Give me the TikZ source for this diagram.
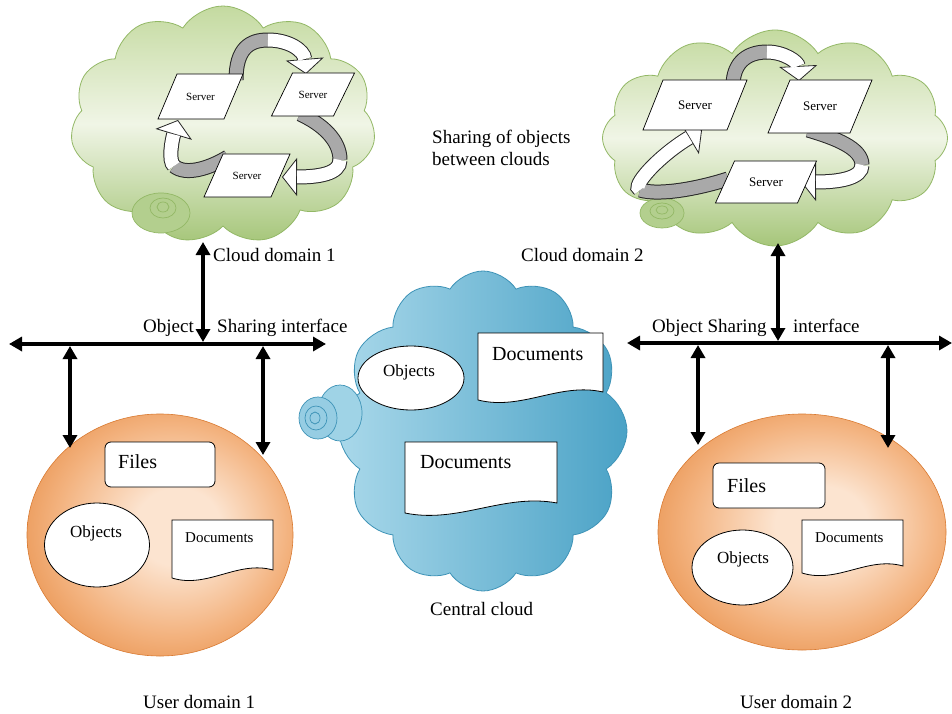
\documentclass[tikz,border=0pt]{standalone}
\usepackage{fontspec}
\setmainfont{Liberation Serif}
\usetikzlibrary{shapes.symbols,shapes.geometric,arrows.meta,calc}

\definecolor{greenTop}{HTML}{C4DAA0}
\definecolor{greenMid}{HTML}{F0F5E6}
\definecolor{greenBot}{HTML}{A6C67A}
\definecolor{greenEdge}{HTML}{93B866}
\definecolor{blueL}{HTML}{A9D8EA}
\definecolor{blueD}{HTML}{4AA2C6}
\definecolor{blueEdge}{HTML}{3E93B7}
\definecolor{orgIn}{HTML}{FCE4D0}
\definecolor{orgMid}{HTML}{F3B27E}
\definecolor{orgOut}{HTML}{E68B43}
\definecolor{orgEdge}{HTML}{D97A31}
\definecolor{bandGray}{HTML}{A9A9A9}

% soft orange glow for the user domains, brightest a little right of centre
\pgfdeclareradialshading{orgshade}{\pgfpoint{4bp}{2bp}}{%
  color(0bp)=(orgIn); color(8bp)=(orgIn); color(22bp)=(orgMid);
  color(33bp)=(orgOut); color(50bp)=(orgOut)}

\tikzset{
  lbl/.style={font=\fontsize{19}{22}\selectfont, anchor=base west, inner sep=0pt},
  greencloud/.style={cloud, cloud ignores aspect, draw=greenEdge, line width=0.8pt,
    top color=greenTop, bottom color=greenBot, middle color=greenMid},
  bluecloud/.style={cloud, cloud ignores aspect, draw=blueEdge, line width=0.8pt,
    left color=blueL, right color=blueD},
  userdom/.style={ellipse, draw=orgEdge, line width=0.6pt, shading=orgshade},
  srvbox/.style={draw=black, line width=0.7pt, fill=white},
  docbox/.style={draw=black, line width=0.8pt, fill=white},
  objell/.style={ellipse, draw=black, line width=0.8pt, fill=white},
  filebox/.style={draw=black, line width=0.8pt, fill=white, rounded corners=6pt},
  bandedge/.style={line width=15pt, draw=black!85},
  bandgray/.style={line width=13pt, draw=bandGray},
  bandwhite/.style={line width=13pt, draw=white, shorten >=15pt},
  bandtip/.style={-{Triangle[width=38pt,length=15pt,fill=white,line width=0.8pt]}},
  busarrow/.style={line width=3.6pt, {Triangle[length=13pt,width=14pt]}-{Triangle[length=13pt,width=14pt]}},
  swirl/.style={draw=#1, line width=0.7pt},
}

% parallelogram server: name, cx, cy, top width, height, slant, font size
\newcommand\serverbox[7]{%
  \draw[srvbox] (#2-#4/2+#6/2,#3-#5/2) -- (#2+#4/2+#6/2,#3-#5/2)
    -- (#2+#4/2-#6/2,#3+#5/2) -- (#2-#4/2-#6/2,#3+#5/2) -- cycle;
  \node[font=\fontsize{#7}{#7}\selectfont, inner sep=0pt] (#1) at (#2,#3) {Server};}

% document symbol: name, x left, y top, x right, y bottom-left, y bottom-right
\newcommand\docshape[6]{%
  \draw[docbox] (#2,#3) -- (#4,#3) -- (#4,#6)
    .. controls (#4-0.35*#4+0.35*#2,#6-10) and (#2+0.35*#4-0.35*#2,#5+11) .. (#2,#5) -- cycle;
  \coordinate (#1) at (#2,#3);}

\begin{document}
\begin{tikzpicture}[x=1pt,y=-1pt]
\useasboundingbox (0,0) rectangle (952,714);
\fill[white] (0,0) rectangle (952,714);

% ---------- cloud domain 1 ----------
\node[greencloud, cloud puffs=11, cloud puff arc=115, minimum width=305pt, minimum height=238pt] (cd1) at (223,125) {};
\filldraw[swirl=greenEdge, fill=greenBot!85] (161,213) ellipse [x radius=29, y radius=20];
\draw[swirl=greenEdge] (163,208) ellipse [x radius=13, y radius=10];
\draw[swirl=greenEdge] (163,207) ellipse [x radius=6, y radius=5];

% twisted ribbon arrows between the servers of domain 1
\draw[bandedge] (236,80) .. controls (236,48) and (250,40) .. (268,40);
\draw[bandedge,bandtip] (268,40) .. controls (288,40) and (304,50) .. (306,74);
\draw[bandgray] (236,80) .. controls (236,48) and (250,40) .. (268,40);
\draw[bandwhite] (268,40) .. controls (288,40) and (304,50) .. (306,74);

\draw[bandedge] (300,114) .. controls (322,124) and (340,140) .. (340,160);
\draw[bandedge,bandtip] (340,160) .. controls (340,174) and (318,177) .. (282,177);
\draw[bandgray] (300,114) .. controls (322,124) and (340,140) .. (340,160);
\draw[bandwhite] (340,160) .. controls (340,174) and (318,177) .. (282,177);

\draw[bandedge] (228,157) .. controls (210,168) and (186,176) .. (174,166);
\draw[bandedge,bandtip] (174,166) .. controls (168,161) and (172,140) .. (178,120);
\draw[bandgray] (228,157) .. controls (210,168) and (186,176) .. (174,166);
\draw[bandwhite] (174,166) .. controls (168,161) and (172,140) .. (178,120);

\serverbox{s11}{200.5}{96.5}{66}{45}{19}{11}
\serverbox{s12}{313}{94.5}{62}{43}{21}{11}
\serverbox{s13}{247}{175.5}{67}{43}{19}{11}

% ---------- cloud domain 2 ----------
\node[greencloud, cloud puffs=12, cloud puff arc=115, minimum width=345pt, minimum height=216pt] (cd2) at (775,138) {};
\filldraw[swirl=greenEdge, fill=greenBot!85] (662,213) ellipse [x radius=22, y radius=15];
\draw[swirl=greenEdge] (662,211) ellipse [x radius=12, y radius=8];
\draw[swirl=greenEdge] (662,210) ellipse [x radius=6, y radius=4];

\draw[bandedge] (733,86) .. controls (733,60) and (750,52) .. (767,52);
\draw[bandedge,bandtip] (767,52) .. controls (784,52) and (798,62) .. (799,81);
\draw[bandgray] (733,86) .. controls (733,60) and (750,52) .. (767,52);
\draw[bandwhite] (767,52) .. controls (784,52) and (798,62) .. (799,81);

\draw[bandedge] (808,130) .. controls (835,138) and (862,148) .. (862,165);
\draw[bandedge,bandtip] (862,165) .. controls (862,178) and (840,182) .. (801,182);
\draw[bandgray] (808,130) .. controls (835,138) and (862,148) .. (862,165);
\draw[bandwhite] (862,165) .. controls (862,178) and (840,182) .. (801,182);

\draw[bandedge] (728,179) .. controls (700,188) and (660,196) .. (640,190);
\draw[bandedge,bandtip] (640,190) .. controls (630,187) and (660,155) .. (702,130);
\draw[bandgray] (728,179) .. controls (700,188) and (660,196) .. (640,190);
\draw[bandwhite] (640,190) .. controls (630,187) and (660,155) .. (702,130);

\serverbox{s21}{695}{105}{84}{50}{20}{13}
\serverbox{s22}{820}{106.5}{82}{53}{22}{13}
\serverbox{s23}{766}{182}{82}{42}{19}{13}

% ---------- central cloud ----------
\node[bluecloud, cloud puffs=12, cloud puff arc=115, minimum width=288pt, minimum height=320pt] (cc) at (483,431) {};
\filldraw[swirl=blueEdge, fill=blueL!90!blueD] (340,413) ellipse [x radius=22, y radius=28];
\filldraw[swirl=blueEdge, fill=blueL!80!blueD] (318,418) ellipse [x radius=19, y radius=21];
\draw[swirl=blueEdge] (316,418) ellipse [x radius=11, y radius=12];
\draw[swirl=blueEdge] (315,418) ellipse [x radius=5, y radius=6];

\node[objell, minimum width=106pt, minimum height=64pt] (cobj) at (411,378) {};
\node[font=\fontsize{17}{17}\selectfont, anchor=base, inner sep=0pt] (cobjt) at (409,376) {Objects};
\docshape{cdoc1}{478}{333}{603}{400}{392}
\node[font=\fontsize{20}{20}\selectfont, anchor=base west, inner sep=0pt] (cdoc1t) at (492,360) {Documents};
\docshape{cdoc2}{405}{442}{557}{513}{503}
\node[font=\fontsize{20}{20}\selectfont, anchor=base west, inner sep=0pt] (cdoc2t) at (420,468) {Documents};

% ---------- user domains ----------
\node[userdom, minimum width=266pt, minimum height=242pt] (ud1) at (160,535) {};
\node[filebox, minimum width=110pt, minimum height=45pt] (f1) at (160,464.5) {};
\node[font=\fontsize{20}{20}\selectfont, anchor=base west, inner sep=0pt] (f1t) at (118,468) {Files};
\node[objell, minimum width=105pt, minimum height=84pt] (o1) at (97,545) {};
\node[font=\fontsize{17}{17}\selectfont, anchor=base, inner sep=0pt] (o1t) at (96,537) {Objects};
\docshape{d1}{172}{520}{273}{578}{570}
\node[font=\fontsize{15}{15}\selectfont, anchor=base west, inner sep=0pt] (d1t) at (185,542) {Documents};

\node[userdom, minimum width=288pt, minimum height=236pt] (ud2) at (802,532) {};
\node[filebox, minimum width=112pt, minimum height=45pt] (f2) at (769,485.5) {};
\node[font=\fontsize{20}{20}\selectfont, anchor=base west, inner sep=0pt] (f2t) at (727,492) {Files};
\node[objell, minimum width=101pt, minimum height=75pt] (o2) at (742.5,567.5) {};
\node[font=\fontsize{17}{17}\selectfont, anchor=base, inner sep=0pt] (o2t) at (743,563) {Objects};
\docshape{d2}{802}{520}{903}{573}{566}
\node[font=\fontsize{15}{15}\selectfont, anchor=base west, inner sep=0pt] (d2t) at (815,542) {Documents};

% ---------- object sharing interfaces ----------
\coordinate (busL-w) at (9,344);
\coordinate (busL-e) at (326,344);
\coordinate (busL-c) at (203,342);
\coordinate (cd1-port) at (203,242);
\coordinate (busL-a) at (70,346);
\coordinate (busL-b) at (263,346);
\coordinate (ud1-a) at (70,448);
\coordinate (ud1-b) at (263,455);
\draw[busarrow] (busL-w) -- (busL-e);
\draw[busarrow] (cd1-port) -- (busL-c);
\draw[busarrow] (busL-a) -- (ud1-a);
\draw[busarrow] (busL-b) -- (ud1-b);

\coordinate (busR-w) at (627,343);
\coordinate (busR-e) at (952,343);
\coordinate (busR-c) at (778,341);
\coordinate (cd2-port) at (778,243);
\coordinate (busR-a) at (698,345);
\coordinate (busR-b) at (888,345);
\coordinate (ud2-a) at (698,445);
\coordinate (ud2-b) at (888,448);
\draw[busarrow] (busR-w) -- (busR-e);
\draw[busarrow] (cd2-port) -- (busR-c);
\draw[busarrow] (busR-a) -- (ud2-a);
\draw[busarrow] (busR-b) -- (ud2-b);

% ---------- labels ----------
\node[lbl] (share1) at (432,144) {Sharing of objects};
\node[lbl] (share2) at (432,166) {between clouds};
\node[lbl] (cd1lbl) at (213,261) {Cloud domain 1};
\node[lbl] (cd2lbl) at (521,261) {Cloud domain 2};
\node[lbl] (osiL1) at (143,332) {Object};
\node[lbl] (osiL2) at (217,332) {Sharing interface};
\node[lbl] (osiR1) at (652,332) {Object Sharing};
\node[lbl] (osiR2) at (793,332) {interface};
\node[lbl] (cclbl) at (430,615) {Central cloud};
\node[lbl] (ud1lbl) at (143,708) {User domain 1};
\node[lbl] (ud2lbl) at (740,708) {User domain 2};
\end{tikzpicture}
\end{document}
